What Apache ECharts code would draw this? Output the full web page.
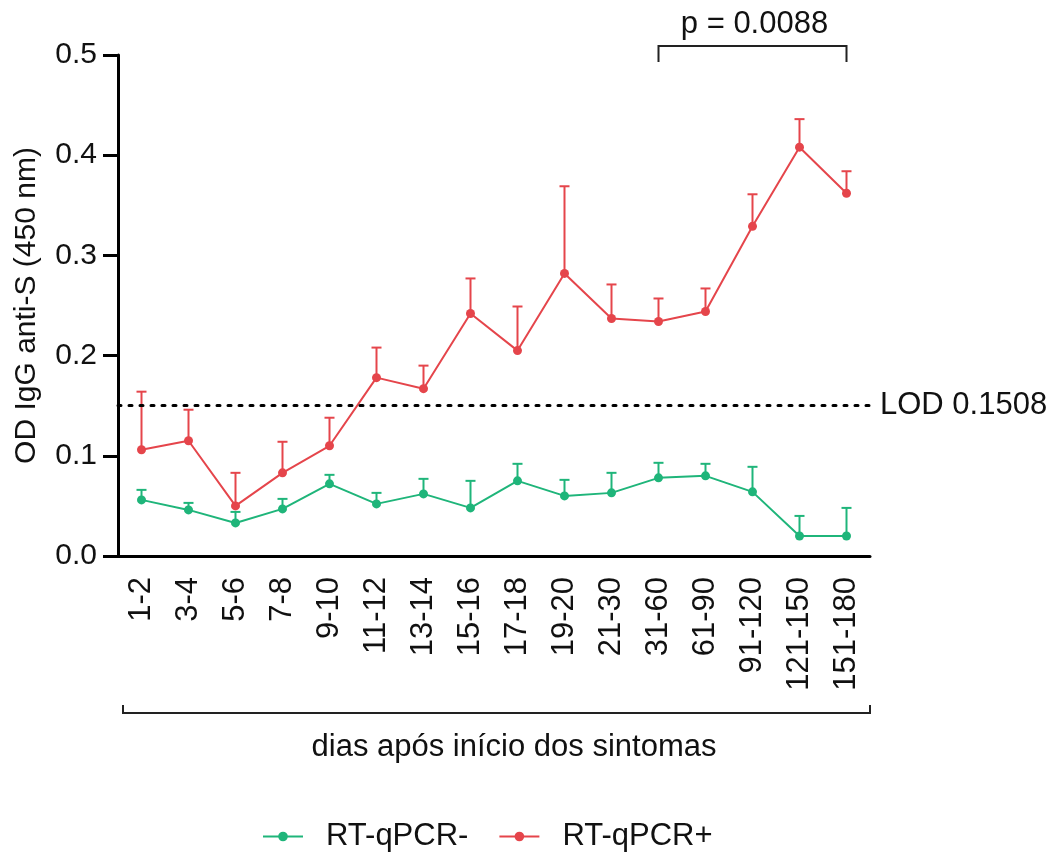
<!DOCTYPE html>
<html>
<head>
<meta charset="utf-8">
<script src="https://cdn.jsdelivr.net/npm/echarts@6/dist/echarts.min.js"></script>
<style>
  html, body { margin: 0; padding: 0; background: #fff; }
  #chart { width: 1051px; height: 858px; }
</style>
</head>
<body>
<div id="chart"></div>
<script>
// Day ranges after symptom onset
const categories = ['1-2', '3-4', '5-6', '7-8', '9-10', '11-12', '13-14', '15-16',
  '17-18', '19-20', '21-30', '31-60', '61-90', '91-120', '121-150', '151-180'];

// RT-qPCR- group: mean OD and mean + SEM
const negMean = [0.056, 0.046, 0.033, 0.047, 0.072, 0.052, 0.062, 0.048,
  0.075, 0.060, 0.063, 0.078, 0.080, 0.064, 0.020, 0.020];
const negUpper = [0.066, 0.053, 0.044, 0.057, 0.081, 0.063, 0.077, 0.075,
  0.092, 0.076, 0.083, 0.093, 0.092, 0.089, 0.040, 0.048];

// RT-qPCR+ group: mean OD and mean + SEM
const posMean = [0.106, 0.115, 0.050, 0.083, 0.110, 0.178, 0.167, 0.242,
  0.205, 0.282, 0.237, 0.234, 0.244, 0.329, 0.408, 0.362];
const posUpper = [0.164, 0.146, 0.083, 0.114, 0.138, 0.208, 0.190, 0.277,
  0.249, 0.369, 0.271, 0.257, 0.267, 0.361, 0.436, 0.384];

const yTicks = [0, 0.1, 0.2, 0.3, 0.4, 0.5];
const lod = 0.1508;
const pValueText = 'p = 0.0088';
const pSpan = ['31-60', '151-180'];

const GREEN = '#1fb57a';
const RED = '#e5454b';
const FONT = '"Liberation Sans", Arial, sans-serif';

const chart = echarts.init(document.getElementById('chart'), null, { renderer: 'canvas' });

function errorBars(means, uppers, color) {
  return {
    type: 'custom',
    z: 1,
    silent: true,
    data: means.map((m, i) => [i, m, uppers[i]]),
    renderItem: function (params, api) {
      const base = api.coord([api.value(0), api.value(1)]);
      const top = api.coord([api.value(0), api.value(2)]);
      const half = 5;
      const style = { stroke: color, lineWidth: 2 };
      return {
        type: 'group',
        children: [
          { type: 'line', shape: { x1: base[0], y1: base[1], x2: top[0], y2: top[1] }, style: style },
          { type: 'line', shape: { x1: top[0] - half, y1: top[1], x2: top[0] + half, y2: top[1] }, style: style }
        ]
      };
    }
  };
}

const option = {
  animation: false,
  backgroundColor: '#fff',
  textStyle: { fontFamily: FONT },
  grid: { left: 118, top: 55, width: 752, height: 501, containLabel: false },
  legend: {
    top: 816,
    left: 257,
    itemWidth: 40,
    itemHeight: 12,
    itemGap: 30,
    data: ['RT-qPCR-', 'RT-qPCR+'],
    textStyle: { fontSize: 31, color: '#111', fontFamily: FONT, padding: [0, 0, 0, 18] }
  },
  xAxis: {
    type: 'category',
    data: categories,
    boundaryGap: true,
    axisLine: { lineStyle: { color: '#000', width: 3 } },
    axisTick: { alignWithLabel: true, length: 14, lineStyle: { color: '#000', width: 3 } },
    axisLabel: { rotate: 90, fontSize: 31, color: '#111', margin: 21, fontFamily: FONT, interval: 0 }
  },
  yAxis: {
    type: 'value',
    min: 0,
    max: 0.5,
    interval: 0.1,
    name: 'OD IgG anti-S (450 nm)',
    nameLocation: 'middle',
    nameGap: 76,
    nameTextStyle: { fontSize: 30, color: '#111', fontFamily: FONT },
    splitLine: { show: false },
    axisLine: { show: true, lineStyle: { color: '#000', width: 3 } },
    axisTick: { show: true, length: 15, lineStyle: { color: '#000', width: 3 } },
    axisLabel: {
      fontSize: 30, color: '#111', margin: 21, fontFamily: FONT,
      formatter: v => (yTicks.some(t => Math.abs(t - v) < 1e-9) ? v.toFixed(1) : '')
    }
  },
  series: [
    errorBars(negMean, negUpper, GREEN),
    errorBars(posMean, posUpper, RED),
    {
      name: 'RT-qPCR-',
      type: 'line',
      z: 3,
      data: negMean,
      symbol: 'circle',
      symbolSize: 9,
      color: GREEN,
      lineStyle: { width: 2, color: GREEN },
      itemStyle: { color: GREEN }
    },
    {
      name: 'RT-qPCR+',
      type: 'line',
      z: 3,
      data: posMean,
      symbol: 'circle',
      symbolSize: 9,
      color: RED,
      lineStyle: { width: 2, color: RED },
      itemStyle: { color: RED },
      markLine: {
        silent: true,
        symbol: ['none', 'none'],
        lineStyle: { color: '#000', type: [3, 8], width: 3, cap: 'round' },
        label: {
          show: true,
          position: 'end',
          formatter: 'LOD ' + lod,
          fontSize: 31,
          color: '#111',
          fontFamily: FONT,
          distance: 10
        },
        data: [{ yAxis: lod }]
      }
    }
  ]
};

chart.setOption(option);

// Annotations placed from the axis scales: significance bracket and the x-axis bracket
function drawAnnotations() {
  const grid = chart.getModel().getComponent('grid').coordinateSystem.getRect();
  const xa = chart.convertToPixel({ xAxisIndex: 0 }, pSpan[0]);
  const xb = chart.convertToPixel({ xAxisIndex: 0 }, pSpan[1]);
  const yTop = chart.convertToPixel({ yAxisIndex: 0 }, 0.509);
  const yEnd = chart.convertToPixel({ yAxisIndex: 0 }, 0.493);
  const yText = chart.convertToPixel({ yAxisIndex: 0 }, 0.530);

  const bx1 = grid.x + 5;
  const bx2 = grid.x + grid.width;
  const by = 713;

  chart.setOption({
    graphic: [
      {
        type: 'polyline',
        shape: { points: [[xa, yEnd], [xa, yTop], [xb, yTop], [xb, yEnd]] },
        style: { stroke: '#222', lineWidth: 2, fill: null }
      },
      {
        type: 'text',
        x: (xa + xb) / 2 + 2,
        y: yText,
        style: {
          text: pValueText, fontSize: 31, fill: '#111', fontFamily: FONT,
          align: 'center', verticalAlign: 'middle'
        }
      },
      {
        type: 'polyline',
        shape: { points: [[bx1, by - 8], [bx1, by], [bx2, by], [bx2, by - 8]] },
        style: { stroke: '#222', lineWidth: 2, fill: null }
      },
      {
        type: 'text',
        x: grid.x + grid.width / 2 + 20,
        y: 747,
        style: {
          text: 'dias após início dos sintomas', fontSize: 31, fill: '#111', fontFamily: FONT,
          align: 'center', verticalAlign: 'middle'
        }
      }
    ]
  });
}
drawAnnotations();
</script>
</body>
</html>
